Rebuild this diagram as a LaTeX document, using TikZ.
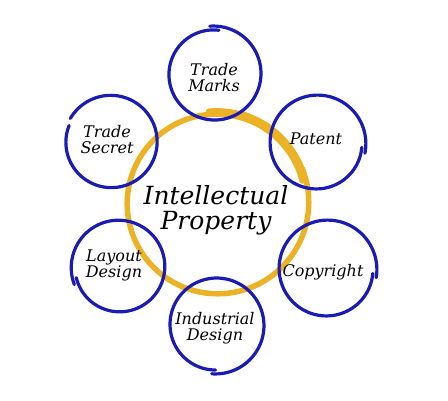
\documentclass[tikz,border=0pt]{standalone}
\usepackage{fontspec}
\setmainfont{DejaVu Serif}
\usepackage{xcolor}
\definecolor{ringBlue}{HTML}{1A1AB4}
\definecolor{ringGold}{HTML}{EBB226}
\usepackage{tikz}

\begin{document}
\begin{tikzpicture}[x=1pt,y=1pt,
  lbl/.style={font=\fontsize{16}{16}\selectfont\itshape,align=center,inner sep=0pt},
  bigLbl/.style={lbl,font=\fontsize{25}{25}\selectfont\itshape},
  bluering/.style={draw=ringBlue,line width=3.2pt,line cap=round},
  goldring/.style={draw=ringGold,line width=5.5pt,line cap=round}]
  \useasboundingbox (0,0) rectangle (448,400);
  % centre ring
  \draw[goldring] plot[domain=0:1,samples=120,smooth]
    ({217+(92-4*\x)*cos(22-368*\x)},{197+(92-4*\x)*sin(22-368*\x)});
  \draw[goldring,line width=6.5pt] plot[domain=0:1,samples=40,smooth]
    ({217+(91.7-\x)*cos(95-80*\x)},{197+(91.7-\x)*sin(95-80*\x)});
  \draw[goldring,line width=7.5pt] plot[domain=0:1,samples=40,smooth]
    ({217+(91.5-\x)*cos(75-55*\x)},{197+(91.5-\x)*sin(75-55*\x)});
  % outer rings
  \draw[bluering] plot[domain=0:1,samples=100,smooth]
    ({214+(48-4*\x)*cos(95-372*\x)},{326+(48-4*\x)*sin(95-372*\x)});
  \draw[bluering] plot[domain=0:1,samples=100,smooth]
    ({111+(47-2*\x)*cos(150-352*\x)},{258+(47-2*\x)*sin(150-352*\x)});
  \draw[bluering] plot[domain=0:1,samples=100,smooth]
    ({317+(49-4*\x)*cos(-12+367*\x)},{257+(49-4*\x)*sin(-12+367*\x)});
  \draw[bluering] plot[domain=0:1,samples=100,smooth]
    ({327+(50-4*\x)*cos(-10+365*\x)},{131+(50-4*\x)*sin(-10+365*\x)});
  \draw[bluering] plot[domain=0:1,samples=100,smooth]
    ({119+(44+4*\x)*cos(194+368*\x)},{133+(44+4*\x)*sin(194+368*\x)});
  \draw[bluering] plot[domain=0:1,samples=100,smooth]
    ({216+(49-4*\x)*cos(-95+365*\x)},{75+(49-4*\x)*sin(-95+365*\x)});
  % labels
  \node[bigLbl] (ip) at (216,190) {Intellectual\\Property};
  \node[lbl] (tm) at (214,322) {Trade\\Marks};
  \node[lbl] (ts) at (107,260) {Trade\\Secret};
  \node[lbl] (pa) at (316,261) {Patent};
  \node[lbl] (co) at (323,128) {Copyright};
  \node[lbl] (ld) at (114,135) {Layout\\Design};
  \node[lbl] (id) at (215,72) {Industrial\\Design};
\end{tikzpicture}
\end{document}
